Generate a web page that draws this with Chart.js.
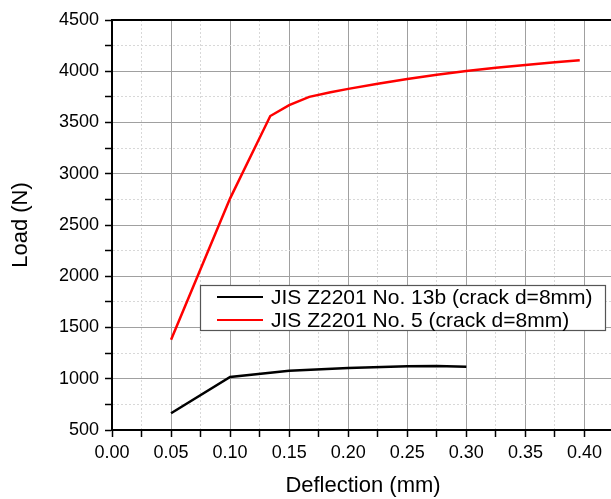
<!DOCTYPE html>
<html><head><meta charset="utf-8">
<script src="https://cdn.jsdelivr.net/npm/chart.js@4/dist/chart.umd.min.js"></script>
<style>html,body{margin:0;padding:0;background:#fff;overflow:hidden}#wrap{width:625px;height:499px;position:relative}</style>
</head><body><div id="wrap"><canvas id="c" width="625" height="499"></canvas></div>
<script>
const seriesNames = ["JIS Z2201 No. 13b (crack d=8mm)", "JIS Z2201 No. 5 (crack d=8mm)"];
const blackX = [0.05, 0.10, 0.15, 0.20, 0.25, 0.275, 0.30];
const blackY = [663, 1017, 1077, 1104, 1122, 1124, 1117];
const redX = [0.05, 0.10, 0.134, 0.150, 0.167, 0.185, 0.20, 0.225, 0.25, 0.275, 0.30, 0.325, 0.35, 0.375, 0.396];
const redY = [1380, 2760, 3563, 3670, 3750, 3795, 3828, 3878, 3925, 3965, 4002, 4035, 4062, 4088, 4108];
const xLabel = "Deflection (mm)";
const yLabel = "Load (N)";

const pts = (xs, ys) => xs.map((x, i) => ({x, y: ys[i]}));
const FONT = "'Liberation Sans', Arial, sans-serif";

const isMajorX = v => Math.round(v * 1000) % 50 === 0;
const isMajorY = v => Math.round(v) % 500 === 0;

const frame = {
  id: 'frame',
  afterDraw(chart) {
    const ctx = chart.ctx, a = chart.chartArea;
    ctx.save();
    ctx.strokeStyle = '#000'; ctx.lineWidth = 2;
    ctx.beginPath(); ctx.moveTo(a.left - 1, a.top); ctx.lineTo(a.right, a.top); ctx.stroke();
    // legend
    const bx = 200, by = 285, bw = 405, bh = 45;
    ctx.fillStyle = '#fff'; ctx.fillRect(bx, by, bw, bh);
    ctx.strokeStyle = '#555'; ctx.lineWidth = 1.2; ctx.strokeRect(bx + 0.5, by + 0.5, bw, bh);
    ctx.font = '21px ' + FONT; ctx.textBaseline = 'middle'; ctx.fillStyle = '#000';
    chart.data.datasets.forEach((ds, i) => {
      const yy = by + 12 + i * 23;
      ctx.strokeStyle = ds.borderColor; ctx.lineWidth = 2;
      ctx.beginPath(); ctx.moveTo(217, yy); ctx.lineTo(263, yy); ctx.stroke();
      ctx.fillStyle = '#000'; ctx.fillText(ds.label, 271, yy + 1);
    });
    ctx.restore();
  }
};

new Chart(document.getElementById('c'), {
  type: 'scatter',
  data: {
    datasets: [
      {label: seriesNames[0], data: pts(blackX, blackY), borderColor: '#000', backgroundColor: '#000', showLine: true, pointRadius: 0, borderWidth: 2.5, tension: 0},
      {label: seriesNames[1], data: pts(redX, redY), borderColor: '#ff0000', backgroundColor: '#ff0000', showLine: true, pointRadius: 0, borderWidth: 2.5, tension: 0}
    ]
  },
  options: {
    responsive: false, animation: false,
    layout: {padding: {top: 20, right: 11, left: 0, bottom: 0}},
    plugins: {legend: {display: false}, tooltip: {enabled: false}},
    scales: {
      x: {
        type: 'linear', min: 0, max: 0.425,
        ticks: {stepSize: 0.025, autoSkip: false, maxRotation: 0, color: '#000', font: {family: FONT, size: 18}, padding: 5,
          callback: v => isMajorX(v) ? v.toFixed(2) : ''},
        grid: {color: c => isMajorX(c.tick.value) ? '#a0a0a0' : '#d8d8d8', lineWidth: 1, tickLength: 7, tickColor: '#000', tickWidth: 1.5},
        border: {color: '#000', width: 2, dash: c => (c.tick && !isMajorX(c.tick.value)) ? [2, 2] : []},
        title: {display: true, text: xLabel, color: '#000', font: {family: FONT, size: 22}, padding: {top: 0, bottom: 0}},
        afterFit: s => { s.height = 69; }
      },
      y: {
        type: 'linear', min: 500, max: 4500,
        ticks: {stepSize: 250, autoSkip: false, color: '#000', font: {family: FONT, size: 18}, padding: 6,
          callback: v => isMajorY(v) ? String(v) : ''},
        grid: {color: c => isMajorY(c.tick.value) ? '#a0a0a0' : '#d8d8d8', lineWidth: 1, tickLength: 7, tickColor: '#000', tickWidth: 1.5},
        border: {color: '#000', width: 2, dash: c => (c.tick && !isMajorY(c.tick.value)) ? [2, 2] : []},
        title: {display: true, text: yLabel, color: '#000', font: {family: FONT, size: 22}, padding: {top: 8, bottom: 0}},
        afterFit: s => { s.width = 112; }
      }
    }
  },
  plugins: [frame]
});
</script></body></html>
